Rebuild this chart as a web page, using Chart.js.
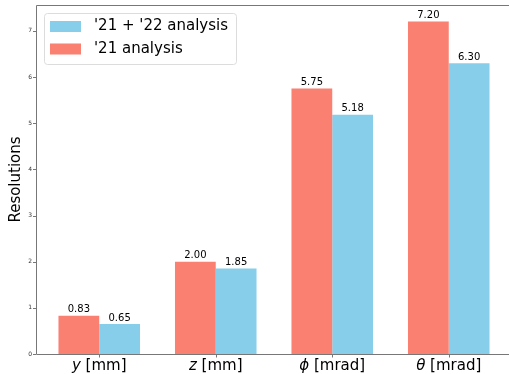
<!DOCTYPE html>
<html>
<head>
<meta charset="utf-8">
<script src="https://cdn.jsdelivr.net/npm/chart.js@4/dist/chart.umd.min.js"></script>
<style>
  html, body { margin: 0; padding: 0; background: #fff; }
  #wrap { width: 509px; height: 374px; position: relative; }
</style>
</head>
<body>
<div id="wrap"><canvas id="c" width="509" height="374"></canvas></div>
<script>
// data
const categories = [
    [{ t: 'y', it: true }, { t: ' [mm]' }],
    [{ t: 'z', it: true }, { t: ' [mm]' }],
    [{ t: 'ϕ', it: true }, { t: ' [mrad]' }],
    [{ t: 'θ', it: true }, { t: ' [mrad]' }]
];
const categoryNames = ['y [mm]', 'z [mm]', 'ϕ [mrad]', 'θ [mrad]'];
const values21 = [0.83, 2.00, 5.75, 7.20];
const values2122 = [0.65, 1.85, 5.18, 6.30];
const yTicks = [0, 1, 2, 3, 4, 5, 6, 7];

const FONT = "'DejaVu Sans', sans-serif";
const SALMON = '#FA8072';
const SKY = '#87CEEB';
const SPINE = '#777';

// the axes box extends a bit past the category area (matplotlib margins)
const SPINE_LEFT = 36;

// bar value labels, spines, ticks, mixed-font tick labels, legend
const decorPlugin = {
    id: 'decor',
    afterDatasetsDraw(chart) {
        const ctx = chart.ctx;
        ctx.save();
        ctx.fillStyle = '#000';
        ctx.font = '10px ' + FONT;
        ctx.textAlign = 'center';
        ctx.textBaseline = 'bottom';
        chart.data.datasets.forEach((ds, i) => {
            const meta = chart.getDatasetMeta(i);
            meta.data.forEach((bar, j) => {
                ctx.fillText(ds.data[j].toFixed(2), bar.x, bar.y - 1);
            });
        });
        ctx.restore();
    },
    afterDraw(chart) {
        const ctx = chart.ctx;
        const area = chart.chartArea;
        const xs = chart.scales.x;
        const ys = chart.scales.y;
        const W = chart.width;
        ctx.save();

        // spines (right one falls outside the picture)
        ctx.strokeStyle = SPINE;
        ctx.lineWidth = 1;
        ctx.beginPath();
        ctx.moveTo(W, area.top + 0.5);
        ctx.lineTo(SPINE_LEFT + 0.5, area.top + 0.5);
        ctx.lineTo(SPINE_LEFT + 0.5, area.bottom + 0.5);
        ctx.lineTo(W, area.bottom + 0.5);
        ctx.stroke();

        // tick marks
        ctx.beginPath();
        yTicks.forEach(v => {
            const y = Math.round(ys.getPixelForValue(v)) + 0.5;
            ctx.moveTo(SPINE_LEFT - 3, y);
            ctx.lineTo(SPINE_LEFT, y);
        });
        categories.forEach((_, i) => {
            const x = Math.round(xs.getPixelForValue(i)) + 0.5;
            ctx.moveTo(x, area.bottom);
            ctx.lineTo(x, area.bottom + 3.5);
        });
        ctx.stroke();

        // y tick labels
        ctx.fillStyle = '#333';
        ctx.font = '6px ' + FONT;
        ctx.textAlign = 'right';
        ctx.textBaseline = 'middle';
        yTicks.forEach(v => {
            ctx.fillText(String(v), SPINE_LEFT - 4, ys.getPixelForValue(v));
        });

        // x tick labels with italic symbols
        ctx.fillStyle = '#000';
        ctx.textBaseline = 'middle';
        ctx.textAlign = 'left';
        categories.forEach((parts, i) => {
            let w = 0;
            parts.forEach(p => {
                ctx.font = (p.it ? 'italic ' : '') + '15px ' + FONT;
                w += ctx.measureText(p.t).width;
            });
            let x = xs.getPixelForValue(i) - w / 2;
            parts.forEach(p => {
                ctx.font = (p.it ? 'italic ' : '') + '15px ' + FONT;
                ctx.fillText(p.t, x, 366);
                x += ctx.measureText(p.t).width;
            });
        });

        // y axis title
        ctx.save();
        ctx.translate(16, (area.top + area.bottom) / 2);
        ctx.rotate(-Math.PI / 2);
        ctx.textAlign = 'center';
        ctx.font = '15px ' + FONT;
        ctx.fillText('Resolutions', 0, 0);
        ctx.restore();

        // legend (reverse order like the reference)
        const lx = 44, ly = 13, lw = 192, lh = 51;
        ctx.fillStyle = 'rgba(255,255,255,0.8)';
        ctx.strokeStyle = '#dcdcdc';
        ctx.beginPath();
        ctx.roundRect(lx + 0.5, ly + 0.5, lw, lh, 3);
        ctx.fill();
        ctx.stroke();
        const items = chart.data.datasets.slice().reverse();
        items.forEach((ds, k) => {
            const cy = 26.5 + k * 22.5;
            ctx.fillStyle = ds.backgroundColor;
            ctx.fillRect(50, cy - 5.5, 31, 11);
            ctx.fillStyle = '#000';
            ctx.font = '15px ' + FONT;
            ctx.textAlign = 'left';
            ctx.textBaseline = 'middle';
            ctx.fillText(ds.label, 94, cy);
        });
        ctx.restore();
    }
};

new Chart(document.getElementById('c'), {
    type: 'bar',
    data: {
        labels: categoryNames,
        datasets: [
            { label: "'21 analysis", data: values21, backgroundColor: SALMON, borderWidth: 0 },
            { label: "'21 + '22 analysis", data: values2122, backgroundColor: SKY, borderWidth: 0 }
        ]
    },
    options: {
        responsive: false,
        animation: false,
        devicePixelRatio: 1,
        layout: { padding: { top: 5, right: 2, left: 0, bottom: 0 } },
        datasets: { bar: { categoryPercentage: 0.7, barPercentage: 1.0 } },
        plugins: { legend: { display: false }, tooltip: { enabled: false } },
        scales: {
            x: {
                grid: { display: false },
                border: { display: false },
                ticks: { display: false },
                afterFit(s) { s.height = 20; }
            },
            y: {
                min: 0,
                max: 7.56,
                grid: { display: false },
                border: { display: false },
                ticks: { display: false },
                afterBuildTicks(s) { s.ticks = yTicks.map(v => ({ value: v })); },
                afterFit(s) { s.width = 41; }
            }
        }
    },
    plugins: [decorPlugin]
});
</script>
</body>
</html>
